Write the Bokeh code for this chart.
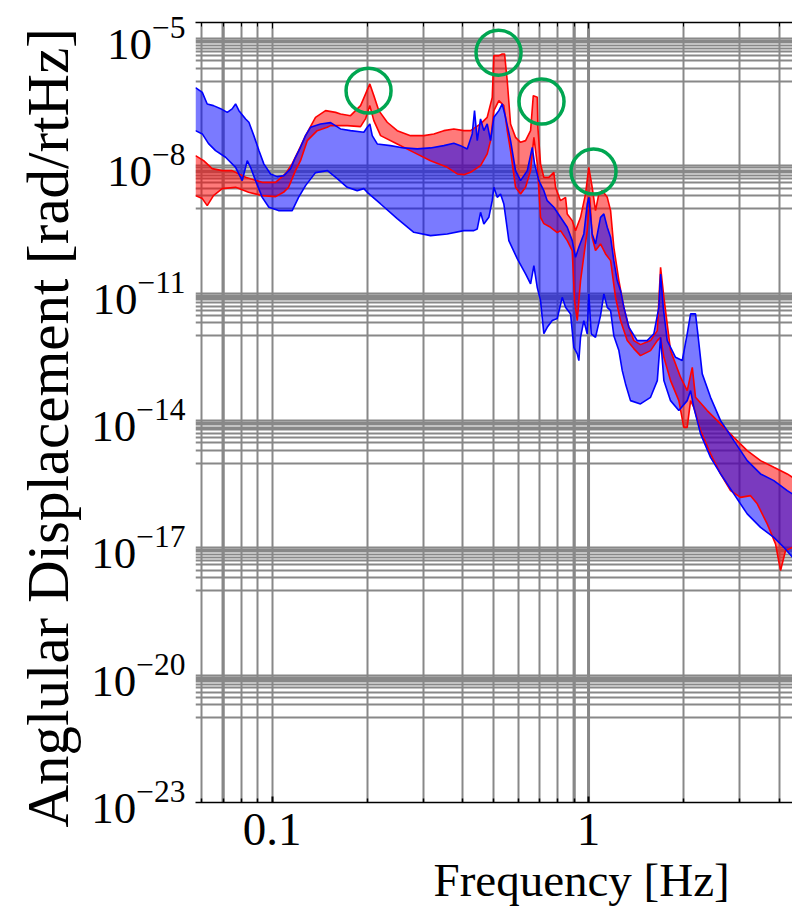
from bokeh.plotting import figure
from bokeh.models import (FixedTicker, Range1d, CustomJSTickFormatter,
                          LogAxis, LogTickFormatter, Title, Span)
from bokeh.embed import file_html
from bokeh.resources import INLINE

# ---------------- data ----------------
# red band: upper and lower edges
ru_f = [0.0573, 0.0608, 0.0647, 0.0696, 0.0748, 0.0825, 0.0931, 0.1026, 0.1103, 0.1158, 0.1213, 0.1276, 0.1372, 0.1476, 0.1588, 0.1646, 0.1770, 0.1904, 0.1975, 0.2037, 0.2097, 0.2175, 0.2312, 0.2486, 0.2739, 0.3018, 0.3245, 0.3489, 0.3753, 0.4036, 0.4238, 0.4558, 0.4785, 0.4963, 0.5022, 0.5208, 0.5337, 0.5428, 0.5535, 0.5670, 0.5880, 0.6098, 0.6325, 0.6560, 0.6690, 0.6887, 0.6917, 0.7052, 0.7224, 0.7491, 0.7770, 0.7866, 0.8155, 0.8460, 0.8564, 0.8882, 0.9097, 0.9435, 0.9784, 1.002, 1.027, 1.052, 1.078, 1.105, 1.146, 1.174, 1.202, 1.247, 1.293, 1.341, 1.390, 1.459, 1.570, 1.649, 1.689, 1.730, 1.816, 1.953, 2.050, 2.127, 2.178, 2.371, 2.613, 2.878, 3.172, 3.495, 3.850, 4.244, 4.411]
ru_v = [1.75e-8, 1.33e-8, 8.64e-9, 7.76e-9, 7.76e-9, 5.39e-9, 4.11e-9, 4.11e-9, 6.59e-9, 1.13e-8, 2.30e-8, 5.18e-8, 1.40e-7, 2.01e-7, 1.83e-7, 1.68e-7, 1.53e-7, 2.64e-7, 4.98e-7, 8.56e-7, 4.54e-7, 2.01e-7, 1.07e-7, 6.79e-8, 5.18e-8, 5.18e-8, 5.68e-8, 6.79e-8, 7.45e-8, 6.79e-8, 6.79e-8, 9.77e-8, 1.40e-7, 4.14e-7, 3.98e-6, 3.98e-6, 4.36e-6, 4.36e-6, 1.02e-6, 9.77e-8, 4.72e-8, 3.60e-8, 3.95e-8, 6.79e-8, 4.54e-7, 4.14e-7, 8.13e-8, 1.12e-8, 5.39e-9, 5.39e-9, 7.07e-9, 3.13e-9, 1.52e-9, 1.82e-9, 7.40e-10, 5.15e-10, 2.99e-10, 6.16e-10, 2.19e-9, 9.28e-9, 3.13e-9, 8.86e-10, 2.19e-9, 2.62e-9, 1.82e-9, 8.86e-10, 1.21e-10, 1.99e-11, 4.66e-12, 1.58e-12, 7.66e-13, 6.16e-13, 7.66e-13, 1.32e-12, 4.08e-11, 8.02e-12, 4.45e-13, 1.05e-13, 5.08e-14, 1.80e-13, 3.53e-14, 1.72e-14, 8.34e-15, 4.03e-15, 1.96e-15, 1.14e-15, 7.92e-16, 5.53e-16, 4.60e-16]

rl_f = [0.0573, 0.0602, 0.0624, 0.0653, 0.0696, 0.0767, 0.0843, 0.0931, 0.1026, 0.1087, 0.1127, 0.1186, 0.1230, 0.1292, 0.1389, 0.1494, 0.1531, 0.1728, 0.1904, 0.1975, 0.2037, 0.2097, 0.2203, 0.2486, 0.2805, 0.3168, 0.3577, 0.3847, 0.4036, 0.4238, 0.4558, 0.4785, 0.4902, 0.5022, 0.5208, 0.5400, 0.5535, 0.5670, 0.5880, 0.6098, 0.6325, 0.6560, 0.6719, 0.6887, 0.7052, 0.7224, 0.7585, 0.7964, 0.8155, 0.8564, 0.8882, 0.9032, 0.9211, 0.9435, 0.9906, 1.0095, 1.027, 1.052, 1.091, 1.132, 1.174, 1.217, 1.262, 1.325, 1.390, 1.459, 1.570, 1.649, 1.689, 1.730, 1.816, 1.929, 2.000, 2.050, 2.101, 2.151, 2.259, 2.429, 2.613, 2.810, 3.021, 3.250, 3.412, 3.669, 3.897, 4.043, 4.192, 4.411]
rl_v = [2.00e-9, 1.70e-9, 1.16e-9, 2.00e-9, 2.92e-9, 3.13e-9, 2.39e-9, 2.00e-9, 1.89e-9, 2.39e-9, 3.13e-9, 7.76e-9, 1.33e-8, 3.95e-8, 6.79e-8, 8.13e-8, 8.91e-8, 8.91e-8, 8.44e-8, 1.30e-7, 2.64e-7, 1.17e-7, 5.18e-8, 3.30e-8, 2.09e-8, 1.33e-8, 9.28e-9, 6.48e-9, 6.24e-9, 7.07e-9, 1.02e-8, 1.92e-8, 3.95e-8, 2.01e-7, 3.46e-7, 2.64e-7, 6.79e-8, 2.30e-8, 3.13e-9, 2.19e-9, 3.13e-9, 7.76e-9, 4.72e-8, 1.12e-8, 6.16e-10, 4.37e-10, 3.58e-10, 2.68e-10, 2.99e-10, 1.74e-10, 1.01e-10, 6.71e-12, 2.27e-12, 1.99e-11, 2.99e-10, 1.82e-9, 2.08e-10, 1.01e-10, 1.45e-10, 8.45e-11, 5.87e-11, 8.02e-12, 2.27e-12, 7.66e-13, 4.96e-13, 3.39e-13, 4.45e-13, 7.66e-13, 9.16e-13, 3.09e-13, 8.74e-14, 2.95e-14, 6.93e-15, 6.93e-15, 2.95e-14, 2.05e-14, 5.80e-15, 1.64e-15, 5.53e-16, 2.24e-16, 1.55e-16, 1.70e-16, 1.09e-16, 3.67e-17, 1.24e-17, 2.91e-18, 8.62e-18, 1.03e-17]

# blue band: upper and lower edges
bu_f = [0.0573, 0.0602, 0.0624, 0.0653, 0.0688, 0.0722, 0.0748, 0.0767, 0.0786, 0.0825, 0.0845, 0.0876, 0.0909, 0.0942, 0.0989, 0.1038, 0.1090, 0.1144, 0.1186, 0.1230, 0.1276, 0.1323, 0.1423, 0.1531, 0.1646, 0.1770, 0.1950, 0.1999, 0.2037, 0.2073, 0.2150, 0.2367, 0.2608, 0.2876, 0.3168, 0.3489, 0.3753, 0.3940, 0.4137, 0.4290, 0.4363, 0.4450, 0.4558, 0.4669, 0.4785, 0.4902, 0.5022, 0.5208, 0.5337, 0.5467, 0.5670, 0.5880, 0.6098, 0.6404, 0.6641, 0.6753, 0.6966, 0.7224, 0.7404, 0.7770, 0.8155, 0.8564, 0.8882, 0.9097, 0.9319, 0.9663, 0.9906, 1.002, 1.027, 1.052, 1.091, 1.118, 1.146, 1.174, 1.202, 1.232, 1.262, 1.293, 1.341, 1.425, 1.532, 1.608, 1.668, 1.689, 1.722, 1.773, 1.883, 1.977, 2.050, 2.101, 2.178, 2.215, 2.287, 2.429, 2.613, 2.878, 3.172, 3.495, 3.850, 4.244, 4.411]
bu_v = [7.00e-7, 5.43e-7, 2.89e-7, 2.64e-7, 2.24e-7, 1.83e-7, 2.21e-7, 2.89e-7, 2.01e-7, 1.28e-7, 1.07e-7, 5.18e-8, 2.30e-8, 1.12e-8, 6.48e-9, 5.60e-9, 5.91e-9, 8.51e-9, 1.60e-8, 2.75e-8, 5.18e-8, 8.13e-8, 9.77e-8, 1.05e-7, 7.45e-8, 6.79e-8, 6.20e-8, 8.13e-8, 9.77e-8, 5.18e-8, 3.30e-8, 3.01e-8, 2.66e-8, 2.52e-8, 2.66e-8, 3.01e-8, 3.41e-8, 3.01e-8, 2.52e-8, 5.68e-8, 2.01e-7, 3.95e-8, 1.28e-7, 6.79e-8, 9.77e-8, 3.95e-8, 1.40e-7, 2.01e-7, 2.89e-7, 1.40e-7, 3.95e-8, 7.76e-9, 4.51e-9, 7.76e-9, 2.75e-8, 1.12e-8, 4.51e-9, 2.62e-9, 1.52e-9, 1.06e-9, 6.16e-10, 3.58e-10, 1.74e-10, 7.03e-11, 1.21e-10, 2.50e-10, 1.27e-9, 1.82e-9, 2.50e-10, 1.45e-10, 6.16e-10, 7.40e-10, 3.58e-10, 2.08e-10, 5.87e-11, 1.99e-11, 1.15e-11, 4.66e-12, 1.58e-12, 7.66e-13, 7.66e-13, 1.10e-12, 4.66e-12, 2.85e-11, 4.66e-12, 7.66e-13, 3.09e-13, 2.59e-13, 1.10e-12, 3.26e-12, 3.26e-12, 1.10e-12, 1.26e-13, 3.53e-14, 9.97e-15, 3.37e-15, 1.14e-15, 5.53e-16, 3.85e-16, 2.24e-16, 1.87e-16]

bl_f = [0.0573, 0.0602, 0.0630, 0.0663, 0.0713, 0.0767, 0.0805, 0.0835, 0.0855, 0.0887, 0.0931, 0.0977, 0.1048, 0.1158, 0.1213, 0.1276, 0.1372, 0.1497, 0.1607, 0.1728, 0.1858, 0.1950, 0.1999, 0.2203, 0.2486, 0.2805, 0.3168, 0.3577, 0.4036, 0.4341, 0.4450, 0.4558, 0.4669, 0.4842, 0.4963, 0.5022, 0.5147, 0.5272, 0.5400, 0.5600, 0.5952, 0.6325, 0.6560, 0.6719, 0.6887, 0.7052, 0.7224, 0.7404, 0.7680, 0.7964, 0.8257, 0.8460, 0.8774, 0.8986, 0.9211, 0.9319, 0.9435, 0.9663, 0.9906, 1.002, 1.0198, 1.052, 1.091, 1.118, 1.146, 1.174, 1.202, 1.247, 1.278, 1.309, 1.357, 1.459, 1.570, 1.649, 1.689, 1.730, 1.816, 1.929, 2.050, 2.101, 2.151, 2.259, 2.429, 2.613, 2.878, 3.172, 3.495, 3.850, 4.141, 4.411]
bl_v = [6.79e-8, 5.68e-8, 3.36e-8, 2.30e-8, 1.60e-8, 9.28e-9, 4.51e-9, 1.33e-8, 9.28e-9, 4.51e-9, 1.82e-9, 1.06e-9, 8.86e-10, 8.86e-10, 1.82e-9, 3.44e-9, 6.96e-9, 7.76e-9, 5.02e-9, 3.13e-9, 2.62e-9, 2.92e-9, 2.39e-9, 1.27e-9, 5.74e-10, 2.73e-10, 2.28e-10, 2.50e-10, 2.99e-10, 2.99e-10, 3.28e-10, 8.08e-10, 4.30e-10, 6.16e-10, 1.52e-9, 3.13e-9, 1.82e-9, 2.19e-9, 1.27e-9, 1.74e-10, 6.55e-11, 2.85e-11, 1.66e-11, 4.48e-11, 1.36e-11, 6.71e-12, 1.12e-12, 1.58e-12, 2.27e-12, 2.53e-12, 8.02e-12, 4.66e-12, 3.26e-12, 5.32e-13, 3.72e-13, 2.59e-13, 9.16e-13, 2.27e-12, 1.10e-12, 9.65e-12, 1.10e-12, 9.16e-13, 2.97e-12, 9.65e-12, 4.66e-12, 3.90e-12, 1.00e-12, 4.45e-13, 1.50e-13, 7.31e-14, 2.95e-14, 2.47e-14, 3.53e-14, 8.74e-14, 9.16e-13, 8.74e-14, 2.95e-14, 1.72e-14, 2.95e-14, 5.08e-14, 2.05e-14, 4.85e-15, 1.36e-15, 5.53e-16, 1.87e-16, 6.32e-17, 3.05e-17, 1.77e-17, 1.03e-17, 6.00e-18]

# highlighted peaks (green circles)
peak_f = [0.2018, 0.5196, 0.7103, 1.037]
peak_v = [5.95e-7, 4.68e-6, 3.28e-7, 7.35e-9]

# ticks
x_major = [0.1, 1]
x_minor = [0.06, 0.07, 0.08, 0.09, 0.2, 0.3, 0.4, 0.5, 0.6, 0.7, 0.8, 0.9, 2, 3, 4]
x_heavy = [0.07, 0.9, 1]          # grid lines drawn heavier in the reference
y_exps = [-23, -20, -17, -14, -11, -8, -5]
y_major = [10.0 ** e for e in y_exps]
y_minor = [k * 10.0 ** (e - 1) for e in y_exps[1:] for k in range(1, 10)]

x_title = "Frequency [Hz]"
y_title = "Anglular Displacement [rad/rtHz]"

SERIF = "Liberation Serif"
GRID = "#888888"

p = figure(width=792, height=912, x_axis_type="log", y_axis_type="log",
           x_range=Range1d(0.0573, 4.41), y_range=Range1d(1e-23, 2.4e-5),
           output_backend="svg", toolbar_location=None,
           min_border_left=195, min_border_right=0, min_border_top=22, min_border_bottom=110)
p.outline_line_color = None
p.background_fill_color = "white"
p.border_fill_color = "white"

xt = FixedTicker(ticks=x_major, minor_ticks=x_minor)
yt = FixedTicker(ticks=y_major, minor_ticks=y_minor)
p.xaxis.ticker = xt
p.xgrid.ticker = xt
p.yaxis.ticker = yt
p.ygrid.ticker = yt

for g in (p.xgrid, p.ygrid):
    g.grid_line_color = GRID
    g.grid_line_width = 2
    g.minor_grid_line_color = GRID
    g.minor_grid_line_width = 2

for xv in x_heavy:
    p.add_layout(Span(location=xv, dimension="height", line_color=GRID,
                      line_width=3, level="underlay"))

# bottom axis
xa = p.xaxis[0]
xa.formatter = CustomJSTickFormatter(code="return tick < 1 ? tick.toFixed(1) : tick.toFixed(0);")
xa.axis_line_color = "black"
xa.axis_line_width = 1.5
xa.major_tick_in = 6
xa.major_tick_out = 0
xa.minor_tick_in = 4
xa.minor_tick_out = 0
xa.major_tick_line_color = "black"
xa.minor_tick_line_color = "black"
xa.major_tick_line_width = 2
xa.minor_tick_line_width = 1.5
xa.major_label_text_font = SERIF
xa.major_label_text_font_size = "47px"
xa.major_label_text_color = "black"
xa.major_label_standoff = 11

# top axis (frame edge with ticks)
ta = LogAxis(ticker=xt, formatter=CustomJSTickFormatter(code="return '';"))
ta.axis_line_color = "black"
ta.axis_line_width = 1.5
ta.major_tick_in = 6
ta.major_tick_out = 0
ta.minor_tick_in = 4
ta.minor_tick_out = 0
ta.major_tick_line_color = "black"
ta.minor_tick_line_color = "black"
ta.major_label_text_font_size = "1px"
ta.major_label_standoff = 0
p.add_layout(ta, "above")

# left axis
ya = p.yaxis[0]
ya.formatter = LogTickFormatter()
ya.axis_line_color = None
ya.major_tick_in = 0
ya.major_tick_out = 0
ya.minor_tick_in = 0
ya.minor_tick_out = 0
ya.major_label_text_font = SERIF
ya.major_label_text_font_size = "45px"
ya.major_label_text_color = "black"
ya.major_label_standoff = 10

# axis titles (side titles, shifted like the reference)
p.add_layout(Title(text=x_title, align="left", offset=238, standoff=8,
                   text_font=SERIF, text_font_size="47px", text_font_style="normal",
                   text_color="black"), "below")
p.add_layout(Title(text=y_title, align="left", offset=-25, standoff=12,
                   vertical_align="top",
                   text_font=SERIF, text_font_size="59px", text_font_style="normal",
                   text_color="black"), "left")

# bands
p.patch(ru_f + rl_f[::-1], ru_v + rl_v[::-1], fill_color="red", fill_alpha=0.52, line_color=None)
p.patch(bu_f + bl_f[::-1], bu_v + bl_v[::-1], fill_color="blue", fill_alpha=0.52, line_color=None)
p.line(ru_f, ru_v, line_color="red", line_width=1.6)
p.line(rl_f, rl_v, line_color="red", line_width=1.6)
p.line(bu_f, bu_v, line_color="blue", line_width=1.6)
p.line(bl_f, bl_v, line_color="blue", line_width=1.6)

p.scatter(peak_f, peak_v, marker="circle", size=45, fill_color=None,
          line_color="#00a651", line_width=3.5)

open("out.html", "w").write(file_html(p, INLINE))
